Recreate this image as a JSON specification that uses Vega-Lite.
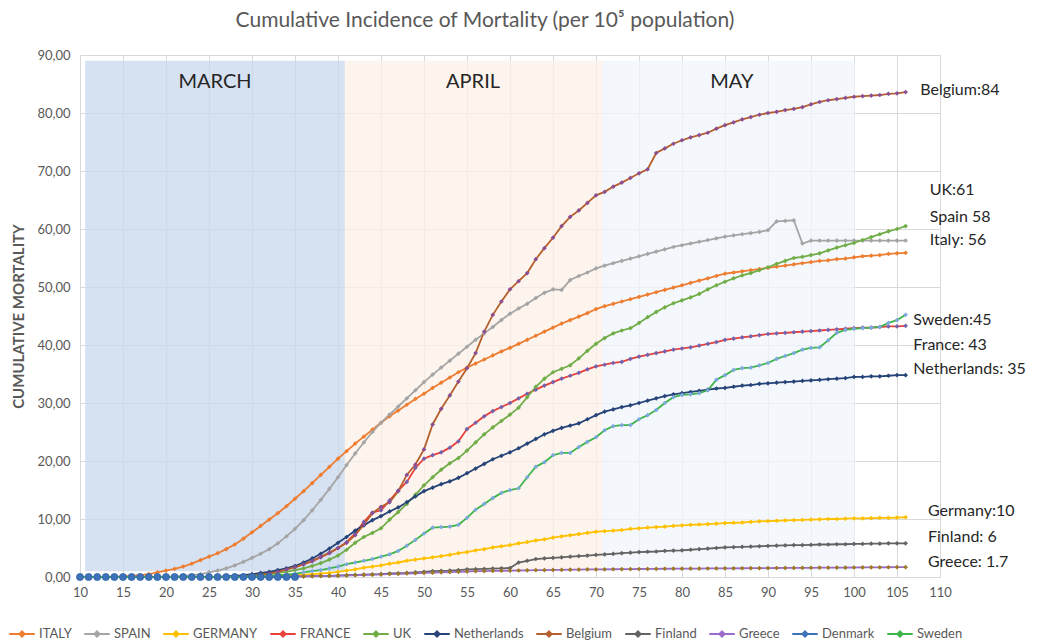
{
  "$schema": "https://vega.github.io/schema/vega-lite/v6.json",
  "width": 860,
  "height": 522,
  "autosize": "none",
  "padding": {"left": 80, "top": 55, "right": 100, "bottom": 66},
  "background": "white",
  "config": {"font": "Lato", "view": {"stroke": null}},
  "title": {"text": "Cumulative Incidence of Mortality (per 10⁵ population)", "fontSize": 21, "font": "Lato", "fontWeight": "normal", "color": "#595959", "anchor": "middle", "dx": -25, "offset": 18},
  "datasets": {
    "bands": [
      {"month": "MARCH", "start": 10.6, "end": 40.8, "mid": 25.7},
      {"month": "APRIL", "start": 40.8, "end": 70.7, "mid": 55.7},
      {"month": "MAY", "start": 70.7, "end": 100.1, "mid": 85.8}
    ],
    "notes": [
      {"label": "Belgium:84", "d": 107.7, "v": 84},
      {"label": "UK:61", "d": 108.8, "v": 66.7},
      {"label": "Spain 58", "d": 108.8, "v": 62.1},
      {"label": "Italy: 56", "d": 108.8, "v": 58.1},
      {"label": "Sweden:45", "d": 106.9, "v": 44.3},
      {"label": "France: 43", "d": 106.9, "v": 40.0},
      {"label": "Netherlands: 35", "d": 106.9, "v": 35.9},
      {"label": "Germany:10", "d": 108.6, "v": 11.4},
      {"label": "Finland: 6", "d": 108.6, "v": 6.9},
      {"label": "Greece: 1.7", "d": 108.6, "v": 2.6}
    ],
    "series": [
      {"d":10,"ITALY":0,"SPAIN":0,"GERMANY":0,"FRANCE":0,"UK":0,"Netherlands":0,"Belgium":0,"Finland":0,"Greece":0,"Denmark":0,"Sweden":0},
      {"d":11,"ITALY":0,"SPAIN":0,"GERMANY":0,"FRANCE":0,"UK":0,"Netherlands":0,"Belgium":0,"Finland":0,"Greece":0,"Denmark":0,"Sweden":0},
      {"d":12,"ITALY":0,"SPAIN":0,"GERMANY":0,"FRANCE":0,"UK":0,"Netherlands":0,"Belgium":0,"Finland":0,"Greece":0,"Denmark":0,"Sweden":0},
      {"d":13,"ITALY":0,"SPAIN":0,"GERMANY":0,"FRANCE":0,"UK":0,"Netherlands":0,"Belgium":0,"Finland":0,"Greece":0,"Denmark":0,"Sweden":0},
      {"d":14,"ITALY":0.05,"SPAIN":0,"GERMANY":0,"FRANCE":0,"UK":0,"Netherlands":0,"Belgium":0,"Finland":0,"Greece":0,"Denmark":0,"Sweden":0},
      {"d":15,"ITALY":0.1,"SPAIN":0,"GERMANY":0,"FRANCE":0,"UK":0,"Netherlands":0,"Belgium":0,"Finland":0,"Greece":0,"Denmark":0,"Sweden":0},
      {"d":16,"ITALY":0.2,"SPAIN":0,"GERMANY":0,"FRANCE":0,"UK":0,"Netherlands":0,"Belgium":0,"Finland":0,"Greece":0,"Denmark":0,"Sweden":0},
      {"d":17,"ITALY":0.3,"SPAIN":0,"GERMANY":0,"FRANCE":0,"UK":0,"Netherlands":0,"Belgium":0,"Finland":0,"Greece":0,"Denmark":0,"Sweden":0},
      {"d":18,"ITALY":0.5,"SPAIN":0,"GERMANY":0,"FRANCE":0,"UK":0,"Netherlands":0,"Belgium":0,"Finland":0,"Greece":0,"Denmark":0,"Sweden":0},
      {"d":19,"ITALY":0.8,"SPAIN":0,"GERMANY":0,"FRANCE":0,"UK":0,"Netherlands":0,"Belgium":0,"Finland":0,"Greece":0,"Denmark":0,"Sweden":0},
      {"d":20,"ITALY":1.1,"SPAIN":0,"GERMANY":0,"FRANCE":0,"UK":0,"Netherlands":0,"Belgium":0,"Finland":0,"Greece":0,"Denmark":0,"Sweden":0},
      {"d":21,"ITALY":1.4,"SPAIN":0.1,"GERMANY":0,"FRANCE":0,"UK":0,"Netherlands":0,"Belgium":0,"Finland":0,"Greece":0,"Denmark":0,"Sweden":0},
      {"d":22,"ITALY":1.8,"SPAIN":0.2,"GERMANY":0,"FRANCE":0,"UK":0,"Netherlands":0,"Belgium":0,"Finland":0,"Greece":0,"Denmark":0,"Sweden":0},
      {"d":23,"ITALY":2.3,"SPAIN":0.3,"GERMANY":0,"FRANCE":0,"UK":0,"Netherlands":0,"Belgium":0,"Finland":0,"Greece":0,"Denmark":0,"Sweden":0},
      {"d":24,"ITALY":2.9,"SPAIN":0.5,"GERMANY":0,"FRANCE":0,"UK":0,"Netherlands":0,"Belgium":0,"Finland":0,"Greece":0,"Denmark":0,"Sweden":0},
      {"d":25,"ITALY":3.5,"SPAIN":0.8,"GERMANY":0,"FRANCE":0,"UK":0,"Netherlands":0,"Belgium":0,"Finland":0,"Greece":0,"Denmark":0,"Sweden":0},
      {"d":26,"ITALY":4.1,"SPAIN":1.1,"GERMANY":0,"FRANCE":0,"UK":0,"Netherlands":0,"Belgium":0,"Finland":0,"Greece":0,"Denmark":0,"Sweden":0},
      {"d":27,"ITALY":4.8,"SPAIN":1.5,"GERMANY":0,"FRANCE":0,"UK":0,"Netherlands":0.1,"Belgium":0,"Finland":0,"Greece":0,"Denmark":0,"Sweden":0},
      {"d":28,"ITALY":5.6,"SPAIN":2.0,"GERMANY":0,"FRANCE":0.1,"UK":0.1,"Netherlands":0.2,"Belgium":0,"Finland":0,"Greece":0,"Denmark":0,"Sweden":0},
      {"d":29,"ITALY":6.6,"SPAIN":2.6,"GERMANY":0,"FRANCE":0.2,"UK":0.2,"Netherlands":0.3,"Belgium":0.1,"Finland":0,"Greece":0,"Denmark":0,"Sweden":0.05},
      {"d":30,"ITALY":7.7,"SPAIN":3.3,"GERMANY":0,"FRANCE":0.3,"UK":0.3,"Netherlands":0.5,"Belgium":0.2,"Finland":0,"Greece":0,"Denmark":0,"Sweden":0.1},
      {"d":31,"ITALY":8.8,"SPAIN":4.0,"GERMANY":0,"FRANCE":0.5,"UK":0.4,"Netherlands":0.7,"Belgium":0.4,"Finland":0,"Greece":0.02,"Denmark":0,"Sweden":0.15},
      {"d":32,"ITALY":9.9,"SPAIN":4.8,"GERMANY":0,"FRANCE":0.7,"UK":0.5,"Netherlands":0.9,"Belgium":0.6,"Finland":0,"Greece":0.05,"Denmark":0,"Sweden":0.2},
      {"d":33,"ITALY":11.0,"SPAIN":5.8,"GERMANY":0.1,"FRANCE":0.9,"UK":0.7,"Netherlands":1.2,"Belgium":0.9,"Finland":0,"Greece":0.05,"Denmark":0,"Sweden":0.3},
      {"d":34,"ITALY":12.2,"SPAIN":7.0,"GERMANY":0.2,"FRANCE":1.3,"UK":0.9,"Netherlands":1.5,"Belgium":1.3,"Finland":0.05,"Greece":0.08,"Denmark":0,"Sweden":0.4},
      {"d":35,"ITALY":13.5,"SPAIN":8.3,"GERMANY":0.3,"FRANCE":1.7,"UK":1.2,"Netherlands":1.9,"Belgium":1.7,"Finland":0.1,"Greece":0.1,"Denmark":0,"Sweden":0.6},
      {"d":36,"ITALY":14.8,"SPAIN":9.8,"GERMANY":0.4,"FRANCE":2.2,"UK":1.5,"Netherlands":2.5,"Belgium":2.2,"Finland":0.1,"Greece":0.12,"Sweden":0.8},
      {"d":37,"ITALY":16.2,"SPAIN":11.5,"GERMANY":0.5,"FRANCE":2.7,"UK":1.9,"Netherlands":3.2,"Belgium":2.8,"Finland":0.15,"Greece":0.15,"Sweden":1.0},
      {"d":38,"ITALY":17.6,"SPAIN":13.3,"GERMANY":0.6,"FRANCE":3.4,"UK":2.4,"Netherlands":4.0,"Belgium":3.5,"Finland":0.2,"Greece":0.18,"Sweden":1.2},
      {"d":39,"ITALY":19.0,"SPAIN":15.2,"GERMANY":0.7,"FRANCE":4.1,"UK":3.0,"Netherlands":4.9,"Belgium":4.2,"Finland":0.2,"Greece":0.2,"Sweden":1.5},
      {"d":40,"ITALY":20.4,"SPAIN":17.2,"GERMANY":0.9,"FRANCE":5.0,"UK":3.7,"Netherlands":5.9,"Belgium":5.0,"Finland":0.25,"Greece":0.25,"Sweden":1.8},
      {"d":41,"ITALY":21.7,"SPAIN":19.3,"GERMANY":1.1,"FRANCE":6.0,"UK":4.7,"Netherlands":6.9,"Belgium":5.9,"Finland":0.3,"Greece":0.28,"Sweden":2.2},
      {"d":42,"ITALY":23.0,"SPAIN":21.3,"GERMANY":1.3,"FRANCE":7.5,"UK":5.9,"Netherlands":8.0,"Belgium":7.2,"Finland":0.35,"Greece":0.3,"Sweden":2.5},
      {"d":43,"ITALY":24.2,"SPAIN":23.2,"GERMANY":1.6,"FRANCE":9.5,"UK":6.9,"Netherlands":8.9,"Belgium":9.0,"Finland":0.4,"Greece":0.35,"Sweden":2.8},
      {"d":44,"ITALY":25.4,"SPAIN":25.0,"GERMANY":1.8,"FRANCE":11.1,"UK":7.6,"Netherlands":9.8,"Belgium":11.0,"Finland":0.45,"Greece":0.4,"Sweden":3.1},
      {"d":45,"ITALY":26.6,"SPAIN":26.6,"GERMANY":2.0,"FRANCE":11.5,"UK":8.4,"Netherlands":10.5,"Belgium":12.1,"Finland":0.5,"Greece":0.45,"Sweden":3.5},
      {"d":46,"ITALY":27.7,"SPAIN":28.0,"GERMANY":2.3,"FRANCE":13.2,"UK":9.9,"Netherlands":11.3,"Belgium":12.9,"Finland":0.6,"Greece":0.5,"Sweden":3.9},
      {"d":47,"ITALY":28.7,"SPAIN":29.4,"GERMANY":2.5,"FRANCE":14.9,"UK":11.2,"Netherlands":12.0,"Belgium":14.8,"Finland":0.65,"Greece":0.55,"Sweden":4.5},
      {"d":48,"ITALY":29.7,"SPAIN":30.8,"GERMANY":2.8,"FRANCE":16.4,"UK":12.6,"Netherlands":12.9,"Belgium":17.6,"Finland":0.7,"Greece":0.6,"Sweden":5.4},
      {"d":49,"ITALY":30.7,"SPAIN":32.2,"GERMANY":3.0,"FRANCE":18.8,"UK":14.2,"Netherlands":13.9,"Belgium":19.4,"Finland":0.8,"Greece":0.65,"Sweden":6.4},
      {"d":50,"ITALY":31.6,"SPAIN":33.6,"GERMANY":3.2,"FRANCE":20.4,"UK":15.8,"Netherlands":14.8,"Belgium":22.0,"Finland":0.9,"Greece":0.7,"Sweden":7.5},
      {"d":51,"ITALY":32.6,"SPAIN":34.9,"GERMANY":3.4,"FRANCE":21.0,"UK":17.2,"Netherlands":15.4,"Belgium":26.3,"Finland":1.0,"Greece":0.75,"Sweden":8.5},
      {"d":52,"ITALY":33.5,"SPAIN":36.1,"GERMANY":3.6,"FRANCE":21.5,"UK":18.5,"Netherlands":16.0,"Belgium":29.0,"Finland":1.05,"Greece":0.8,"Sweden":8.6},
      {"d":53,"ITALY":34.4,"SPAIN":37.3,"GERMANY":3.8,"FRANCE":22.3,"UK":19.6,"Netherlands":16.5,"Belgium":31.3,"Finland":1.1,"Greece":0.85,"Sweden":8.7},
      {"d":54,"ITALY":35.3,"SPAIN":38.5,"GERMANY":4.1,"FRANCE":23.4,"UK":20.5,"Netherlands":17.1,"Belgium":33.7,"Finland":1.2,"Greece":0.9,"Sweden":9.0},
      {"d":55,"ITALY":36.1,"SPAIN":39.7,"GERMANY":4.3,"FRANCE":25.5,"UK":21.8,"Netherlands":17.9,"Belgium":36.0,"Finland":1.3,"Greece":0.95,"Sweden":10.2},
      {"d":56,"ITALY":36.8,"SPAIN":40.9,"GERMANY":4.6,"FRANCE":26.6,"UK":23.2,"Netherlands":18.7,"Belgium":38.6,"Finland":1.35,"Greece":1.0,"Sweden":11.6},
      {"d":57,"ITALY":37.5,"SPAIN":42.0,"GERMANY":4.8,"FRANCE":27.7,"UK":24.6,"Netherlands":19.5,"Belgium":42.3,"Finland":1.4,"Greece":1.02,"Sweden":12.6},
      {"d":58,"ITALY":38.2,"SPAIN":43.1,"GERMANY":5.1,"FRANCE":28.6,"UK":25.8,"Netherlands":20.3,"Belgium":45.2,"Finland":1.45,"Greece":1.05,"Sweden":13.6},
      {"d":59,"ITALY":38.9,"SPAIN":44.3,"GERMANY":5.3,"FRANCE":29.3,"UK":26.9,"Netherlands":20.9,"Belgium":47.5,"Finland":1.5,"Greece":1.08,"Sweden":14.5},
      {"d":60,"ITALY":39.5,"SPAIN":45.4,"GERMANY":5.5,"FRANCE":30.0,"UK":28.0,"Netherlands":21.5,"Belgium":49.6,"Finland":1.55,"Greece":1.1,"Sweden":15.0},
      {"d":61,"ITALY":40.2,"SPAIN":46.3,"GERMANY":5.8,"FRANCE":30.8,"UK":29.2,"Netherlands":22.2,"Belgium":51.0,"Finland":2.5,"Greece":1.12,"Sweden":15.3},
      {"d":62,"ITALY":40.9,"SPAIN":47.1,"GERMANY":6.0,"FRANCE":31.6,"UK":31.0,"Netherlands":23.0,"Belgium":52.4,"Finland":2.8,"Greece":1.15,"Sweden":17.2},
      {"d":63,"ITALY":41.6,"SPAIN":48.1,"GERMANY":6.3,"FRANCE":32.3,"UK":32.8,"Netherlands":23.8,"Belgium":54.8,"Finland":3.1,"Greece":1.18,"Sweden":19.0},
      {"d":64,"ITALY":42.3,"SPAIN":49.0,"GERMANY":6.5,"FRANCE":33.0,"UK":34.2,"Netherlands":24.6,"Belgium":56.7,"Finland":3.2,"Greece":1.2,"Sweden":19.8},
      {"d":65,"ITALY":43.0,"SPAIN":49.6,"GERMANY":6.8,"FRANCE":33.6,"UK":35.3,"Netherlands":25.2,"Belgium":58.5,"Finland":3.3,"Greece":1.22,"Sweden":21.0},
      {"d":66,"ITALY":43.7,"SPAIN":49.5,"GERMANY":7.0,"FRANCE":34.2,"UK":35.9,"Netherlands":25.7,"Belgium":60.5,"Finland":3.4,"Greece":1.24,"Sweden":21.4},
      {"d":67,"ITALY":44.3,"SPAIN":51.2,"GERMANY":7.2,"FRANCE":34.7,"UK":36.5,"Netherlands":26.1,"Belgium":62.1,"Finland":3.5,"Greece":1.26,"Sweden":21.4},
      {"d":68,"ITALY":44.9,"SPAIN":51.9,"GERMANY":7.4,"FRANCE":35.2,"UK":37.7,"Netherlands":26.5,"Belgium":63.2,"Finland":3.6,"Greece":1.28,"Sweden":22.4},
      {"d":69,"ITALY":45.5,"SPAIN":52.5,"GERMANY":7.6,"FRANCE":35.8,"UK":39.0,"Netherlands":27.2,"Belgium":64.5,"Finland":3.7,"Greece":1.3,"Sweden":23.3},
      {"d":70,"ITALY":46.2,"SPAIN":53.2,"GERMANY":7.8,"FRANCE":36.3,"UK":40.2,"Netherlands":27.9,"Belgium":65.8,"Finland":3.8,"Greece":1.31,"Sweden":24.1},
      {"d":71,"ITALY":46.7,"SPAIN":53.7,"GERMANY":7.9,"FRANCE":36.6,"UK":41.2,"Netherlands":28.5,"Belgium":66.4,"Finland":3.9,"Greece":1.32,"Sweden":25.3},
      {"d":72,"ITALY":47.1,"SPAIN":54.1,"GERMANY":8.0,"FRANCE":36.9,"UK":42.0,"Netherlands":28.9,"Belgium":67.3,"Finland":4.0,"Greece":1.34,"Sweden":26.0},
      {"d":73,"ITALY":47.5,"SPAIN":54.5,"GERMANY":8.1,"FRANCE":37.1,"UK":42.5,"Netherlands":29.3,"Belgium":68.0,"Finland":4.1,"Greece":1.35,"Sweden":26.2},
      {"d":74,"ITALY":47.9,"SPAIN":54.9,"GERMANY":8.3,"FRANCE":37.6,"UK":42.9,"Netherlands":29.6,"Belgium":68.8,"Finland":4.2,"Greece":1.37,"Sweden":26.2},
      {"d":75,"ITALY":48.3,"SPAIN":55.3,"GERMANY":8.4,"FRANCE":38.0,"UK":43.8,"Netherlands":30.0,"Belgium":69.6,"Finland":4.3,"Greece":1.38,"Sweden":27.2},
      {"d":76,"ITALY":48.7,"SPAIN":55.7,"GERMANY":8.5,"FRANCE":38.3,"UK":44.8,"Netherlands":30.4,"Belgium":70.3,"Finland":4.35,"Greece":1.4,"Sweden":27.9},
      {"d":77,"ITALY":49.1,"SPAIN":56.1,"GERMANY":8.6,"FRANCE":38.6,"UK":45.7,"Netherlands":30.8,"Belgium":73.1,"Finland":4.4,"Greece":1.41,"Sweden":28.8},
      {"d":78,"ITALY":49.5,"SPAIN":56.5,"GERMANY":8.7,"FRANCE":38.9,"UK":46.5,"Netherlands":31.2,"Belgium":73.9,"Finland":4.5,"Greece":1.42,"Sweden":30.0},
      {"d":79,"ITALY":49.9,"SPAIN":56.9,"GERMANY":8.8,"FRANCE":39.2,"UK":47.2,"Netherlands":31.5,"Belgium":74.7,"Finland":4.55,"Greece":1.43,"Sweden":31.0},
      {"d":80,"ITALY":50.3,"SPAIN":57.2,"GERMANY":8.9,"FRANCE":39.4,"UK":47.7,"Netherlands":31.7,"Belgium":75.3,"Finland":4.6,"Greece":1.44,"Sweden":31.4},
      {"d":81,"ITALY":50.7,"SPAIN":57.5,"GERMANY":9.0,"FRANCE":39.6,"UK":48.2,"Netherlands":31.9,"Belgium":75.8,"Finland":4.7,"Greece":1.45,"Sweden":31.5},
      {"d":82,"ITALY":51.1,"SPAIN":57.8,"GERMANY":9.05,"FRANCE":39.9,"UK":48.8,"Netherlands":32.1,"Belgium":76.2,"Finland":4.8,"Greece":1.46,"Sweden":31.7},
      {"d":83,"ITALY":51.5,"SPAIN":58.1,"GERMANY":9.1,"FRANCE":40.2,"UK":49.6,"Netherlands":32.3,"Belgium":76.6,"Finland":4.9,"Greece":1.47,"Sweden":32.2},
      {"d":84,"ITALY":51.9,"SPAIN":58.4,"GERMANY":9.2,"FRANCE":40.5,"UK":50.3,"Netherlands":32.5,"Belgium":77.3,"Finland":5.0,"Greece":1.48,"Sweden":34.0},
      {"d":85,"ITALY":52.3,"SPAIN":58.7,"GERMANY":9.3,"FRANCE":40.9,"UK":50.9,"Netherlands":32.6,"Belgium":77.9,"Finland":5.1,"Greece":1.49,"Sweden":34.8},
      {"d":86,"ITALY":52.5,"SPAIN":58.9,"GERMANY":9.35,"FRANCE":41.1,"UK":51.5,"Netherlands":32.8,"Belgium":78.4,"Finland":5.15,"Greece":1.5,"Sweden":35.7},
      {"d":87,"ITALY":52.7,"SPAIN":59.1,"GERMANY":9.4,"FRANCE":41.3,"UK":52.0,"Netherlands":33.0,"Belgium":78.9,"Finland":5.2,"Greece":1.51,"Sweden":36.0},
      {"d":88,"ITALY":52.9,"SPAIN":59.3,"GERMANY":9.5,"FRANCE":41.5,"UK":52.4,"Netherlands":33.1,"Belgium":79.3,"Finland":5.25,"Greece":1.52,"Sweden":36.1},
      {"d":89,"ITALY":53.1,"SPAIN":59.5,"GERMANY":9.6,"FRANCE":41.7,"UK":52.9,"Netherlands":33.3,"Belgium":79.7,"Finland":5.3,"Greece":1.53,"Sweden":36.5},
      {"d":90,"ITALY":53.3,"SPAIN":59.8,"GERMANY":9.65,"FRANCE":41.9,"UK":53.4,"Netherlands":33.4,"Belgium":80.0,"Finland":5.35,"Greece":1.54,"Sweden":36.9},
      {"d":91,"ITALY":53.5,"SPAIN":61.3,"GERMANY":9.7,"FRANCE":42.0,"UK":54.0,"Netherlands":33.5,"Belgium":80.2,"Finland":5.4,"Greece":1.55,"Sweden":37.6},
      {"d":92,"ITALY":53.7,"SPAIN":61.4,"GERMANY":9.75,"FRANCE":42.1,"UK":54.5,"Netherlands":33.6,"Belgium":80.5,"Finland":5.45,"Greece":1.56,"Sweden":38.1},
      {"d":93,"ITALY":53.9,"SPAIN":61.5,"GERMANY":9.8,"FRANCE":42.2,"UK":55.0,"Netherlands":33.7,"Belgium":80.7,"Finland":5.5,"Greece":1.57,"Sweden":38.6},
      {"d":94,"ITALY":54.1,"SPAIN":57.5,"GERMANY":9.85,"FRANCE":42.3,"UK":55.2,"Netherlands":33.8,"Belgium":81.0,"Finland":5.5,"Greece":1.58,"Sweden":39.2},
      {"d":95,"ITALY":54.3,"SPAIN":58.0,"GERMANY":9.9,"FRANCE":42.4,"UK":55.5,"Netherlands":33.9,"Belgium":81.5,"Finland":5.55,"Greece":1.59,"Sweden":39.5},
      {"d":96,"ITALY":54.5,"SPAIN":58.0,"GERMANY":9.95,"FRANCE":42.5,"UK":55.8,"Netherlands":34.0,"Belgium":81.9,"Finland":5.6,"Greece":1.6,"Sweden":39.6},
      {"d":97,"ITALY":54.6,"SPAIN":58.0,"GERMANY":10.0,"FRANCE":42.6,"UK":56.3,"Netherlands":34.1,"Belgium":82.2,"Finland":5.6,"Greece":1.61,"Sweden":40.8},
      {"d":98,"ITALY":54.8,"SPAIN":58.0,"GERMANY":10.0,"FRANCE":42.7,"UK":56.8,"Netherlands":34.2,"Belgium":82.4,"Finland":5.65,"Greece":1.62,"Sweden":42.1},
      {"d":99,"ITALY":54.9,"SPAIN":58.0,"GERMANY":10.05,"FRANCE":42.8,"UK":57.2,"Netherlands":34.3,"Belgium":82.6,"Finland":5.65,"Greece":1.63,"Sweden":42.6},
      {"d":100,"ITALY":55.1,"SPAIN":58.0,"GERMANY":10.1,"FRANCE":42.9,"UK":57.6,"Netherlands":34.5,"Belgium":82.8,"Finland":5.7,"Greece":1.64,"Sweden":42.8},
      {"d":101,"ITALY":55.3,"SPAIN":58.0,"GERMANY":10.1,"FRANCE":43.0,"UK":58.1,"Netherlands":34.5,"Belgium":82.9,"Finland":5.7,"Greece":1.65,"Sweden":42.9},
      {"d":102,"ITALY":55.4,"SPAIN":58.0,"GERMANY":10.15,"FRANCE":43.0,"UK":58.6,"Netherlands":34.6,"Belgium":83.0,"Finland":5.75,"Greece":1.66,"Sweden":43.0},
      {"d":103,"ITALY":55.5,"SPAIN":58.0,"GERMANY":10.2,"FRANCE":43.1,"UK":59.1,"Netherlands":34.6,"Belgium":83.1,"Finland":5.75,"Greece":1.67,"Sweden":43.1},
      {"d":104,"ITALY":55.7,"SPAIN":58.0,"GERMANY":10.2,"FRANCE":43.2,"UK":59.6,"Netherlands":34.7,"Belgium":83.3,"Finland":5.8,"Greece":1.68,"Sweden":43.8},
      {"d":105,"ITALY":55.8,"SPAIN":58.0,"GERMANY":10.25,"FRANCE":43.2,"UK":60.0,"Netherlands":34.8,"Belgium":83.4,"Finland":5.8,"Greece":1.69,"Sweden":44.3},
      {"d":106,"ITALY":55.9,"SPAIN":58.0,"GERMANY":10.3,"FRANCE":43.3,"UK":60.5,"Netherlands":34.8,"Belgium":83.6,"Finland":5.8,"Greece":1.7,"Sweden":45.2}
    ]
  },
  "layer": [
    {
      "data": {"name": "bands"},
      "mark": {"type": "rect", "opacity": 0.75},
      "encoding": {
        "x": {"field": "start", "type": "quantitative", "scale": {"domain": [10, 110], "nice": false, "zero": false},
          "axis": {"values": [10,15,20,25,30,35,40,45,50,55,60,65,70,75,80,85,90,95,100,105,110], "title": null, "grid": true, "gridColor": "#d9d9d9", "domain": false, "ticks": false, "labelFontSize": 13, "labelColor": "#595959", "labelFont": "Lato", "labelPadding": 9, "labelFlush": false}},
        "x2": {"field": "end"},
        "y": {"datum": 1, "type": "quantitative", "scale": {"domain": [0, 90], "nice": false},
          "axis": {"values": [0,10,20,30,40,50,60,70,80,90], "labelExpr": "replace(format(datum.value, '.2f'), '.', ',')", "title": "CUMULATIVE MORTALITY", "titleFontSize": 15, "titleFontWeight": "bold", "titleColor": "#595959", "titleFont": "Lato", "titlePadding": 10, "grid": true, "gridColor": "#d9d9d9", "domain": false, "ticks": false, "labelFontSize": 13, "labelColor": "#595959", "labelFont": "Lato", "labelPadding": 10}},
        "y2": {"datum": 89},
        "color": {"field": "month", "type": "nominal", "legend": null, "scale": {"domain": ["MARCH", "APRIL", "MAY"], "range": ["#C8D7EC", "#FCF0E8", "#F0F6FB"]}}
      }
    },
    {
      "data": {"name": "series"},
      "transform": [
        {"fold": ["ITALY","SPAIN","GERMANY","FRANCE","UK","Netherlands","Belgium","Finland","Greece","Denmark","Sweden"], "as": ["country", "value"]},
        {"filter": "isValid(datum.value)"}
      ],
      "layer": [
        {
          "mark": {"type": "line", "strokeWidth": 1.8},
          "encoding": {
            "x": {"field": "d", "type": "quantitative"},
            "y": {"field": "value", "type": "quantitative"},
            "stroke": {"field": "country", "type": "nominal",
              "scale": {"domain": ["ITALY","SPAIN","GERMANY","FRANCE","UK","Netherlands","Belgium","Finland","Greece","Denmark","Sweden"],
                        "range": ["#ED7D31","#A5A5A5","#FFC000","#E8403A","#70AD47","#264478","#B5602C","#636363","#9B6BCC","#3E72B8","#3DB54A"]},
              "legend": {"orient": "none", "legendX": -72, "legendY": 565, "direction": "horizontal", "columns": 11, "title": null,
                "symbolType": "M-1,0L1,0M0,-0.2L0.2,0L0,0.2L-0.2,0Z", "symbolSize": 650, "symbolStrokeWidth": 2,
                "labelFontSize": 13, "labelColor": "#595959", "labelFont": "Lato", "labelOffset": 3, "columnPadding": 8,
                "encode": {"symbols": {"update": {"fill": {"scale": "fill", "field": "value"}}}}}
            },
            "order": {"field": "d", "type": "quantitative"}
          }
        },
        {
          "transform": [{"filter": "datum.country !== 'Denmark'"}],
          "mark": {"type": "point", "shape": "diamond", "filled": true, "size": 22, "opacity": 1},
          "encoding": {
            "x": {"field": "d", "type": "quantitative"},
            "y": {"field": "value", "type": "quantitative"},
            "fill": {"field": "country", "type": "nominal", "legend": null,
              "scale": {"domain": ["ITALY","SPAIN","GERMANY","FRANCE","UK","Netherlands","Belgium","Finland","Greece","Denmark","Sweden"],
                        "range": ["#ED7D31","#A5A5A5","#FFC000","#7262B0","#70AD47","#264478","#8A4E95","#636363","#9C7A1E","#3E72B8","#7FA8E0"]}}
          }
        },
        {
          "transform": [{"filter": "datum.country === 'Denmark'"}],
          "mark": {"type": "point", "shape": "circle", "filled": true, "size": 50, "opacity": 1, "stroke": "#2F62A8", "strokeWidth": 0.8},
          "encoding": {
            "x": {"field": "d", "type": "quantitative"},
            "y": {"field": "value", "type": "quantitative"},
            "fill": {"field": "country", "type": "nominal", "legend": null}
          }
        }
      ]
    },
    {
      "data": {"name": "bands"},
      "mark": {"type": "text", "fontSize": 20, "font": "Lato", "color": "#262626", "align": "center", "baseline": "middle"},
      "encoding": {
        "x": {"field": "mid", "type": "quantitative"},
        "y": {"datum": 85.3, "type": "quantitative"},
        "text": {"field": "month"}
      }
    },
    {
      "data": {"name": "notes"},
      "mark": {"type": "text", "fontSize": 16, "font": "Lato", "color": "#262626", "align": "left", "baseline": "middle"},
      "encoding": {
        "x": {"field": "d", "type": "quantitative"},
        "y": {"field": "v", "type": "quantitative"},
        "text": {"field": "label"}
      }
    }
  ]
}
